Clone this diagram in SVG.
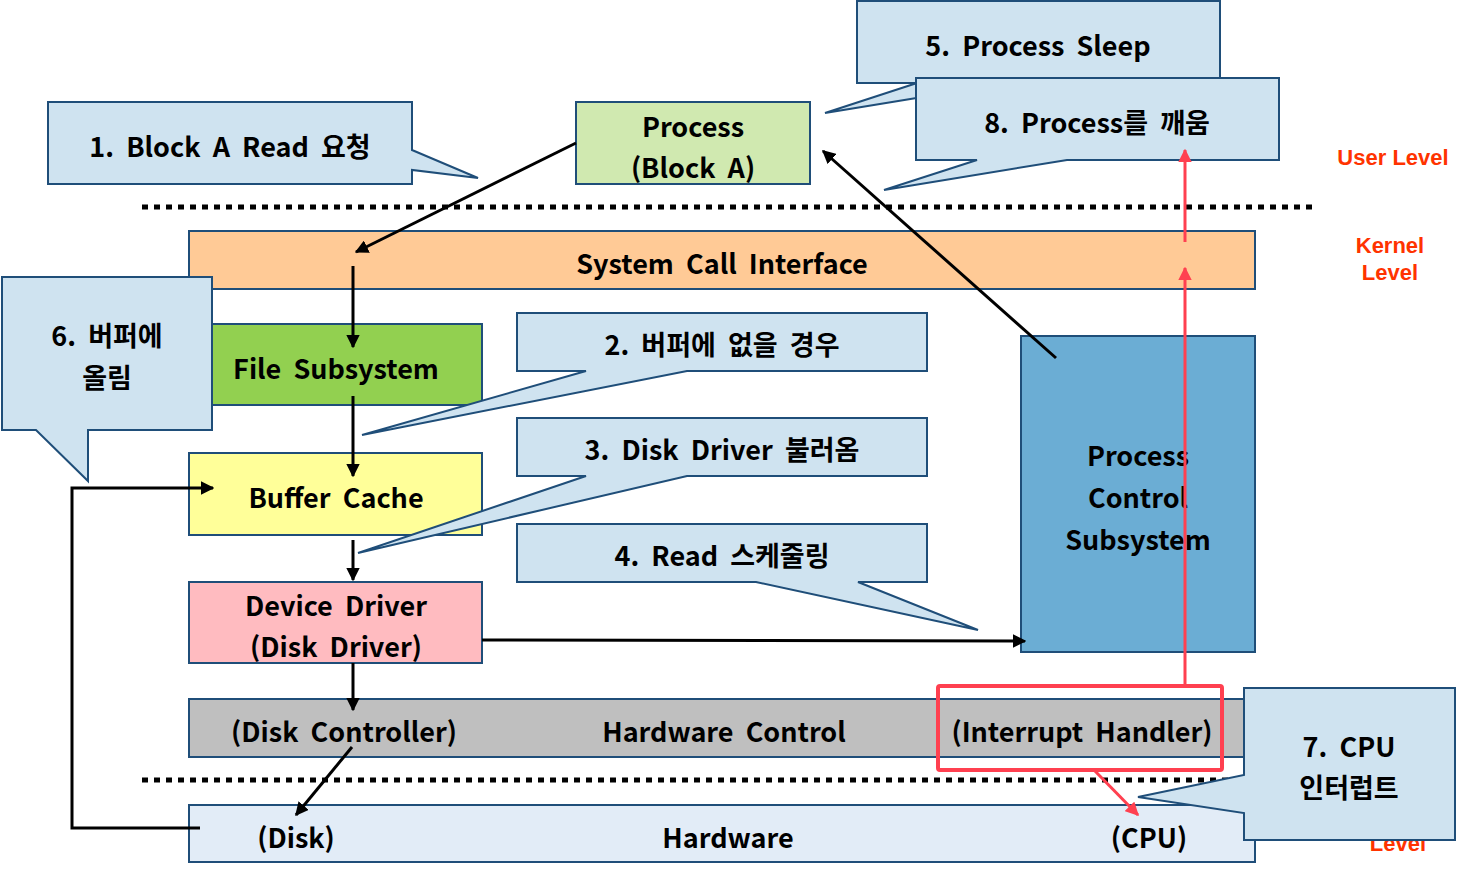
<svg xmlns="http://www.w3.org/2000/svg" width="1466" height="871" viewBox="0 0 1466 871">
<defs>
<style>
.t{font-family:"Noto Sans CJK KR","Liberation Sans",sans-serif;font-weight:bold;font-size:27px;word-spacing:6px;fill:#000;text-anchor:middle;dominant-baseline:central}
.lv{font-family:"Liberation Sans",Arial,sans-serif;font-weight:bold;font-size:22px;fill:#FF3300;text-anchor:middle}
.box{stroke:#1F4E79;stroke-width:2}
.co{fill:#CFE3F0;stroke:#1F4E79;stroke-width:2;stroke-linejoin:miter}
.dot{stroke:#000;stroke-width:5;stroke-dasharray:6 6}
.ln{stroke:#000;stroke-width:3;fill:none}
.rd{stroke:#FF4050;stroke-width:3;fill:none}
</style>
<marker id="ab" viewBox="0 0 10 10" refX="9" refY="5" markerWidth="4.5" markerHeight="4.5" orient="auto" markerUnits="strokeWidth"><path d="M0,0L10,5L0,10z" fill="#000"/></marker>
<marker id="ar" viewBox="0 0 10 10" refX="9" refY="5" markerWidth="4.5" markerHeight="4.5" orient="auto" markerUnits="strokeWidth"><path d="M0,0L10,5L0,10z" fill="#FF4050"/></marker>
</defs>
<rect width="1466" height="871" fill="#fff"/>

<g id="levels">
<text class="lv" x="1393" y="165">User Level</text>
<text class="lv" x="1390" y="253">Kernel</text>
<text class="lv" x="1390" y="280">Level</text>
<text class="lv" x="1398" y="851">Level</text>
</g>

<g id="dividers">
<line class="dot" x1="142" y1="207" x2="1312" y2="207"/>
<line class="dot" x1="142" y1="780" x2="1244" y2="780"/>
</g>

<g id="process">
<rect class="box" x="576" y="102" width="234" height="82" fill="#D0E9B0"/>
<text class="t" x="693" y="125">Process</text>
<text class="t" x="693" y="166">(Block A)</text>
</g>

<g id="syscall">
<rect class="box" x="189" y="231" width="1066" height="58" fill="#FFCA96"/>
<text class="t" x="722" y="262">System Call Interface</text>
</g>

<g id="filesub">
<rect class="box" x="212" y="324" width="270" height="81" fill="#92D050"/>
<text class="t" x="336" y="367">File Subsystem</text>
</g>

<g id="buffer">
<rect class="box" x="189" y="453" width="293" height="82" fill="#FFFF99"/>
<text class="t" x="336" y="496">Buffer Cache</text>
</g>

<g id="devdriver">
<rect class="box" x="189" y="582" width="293" height="81" fill="#FFBBC0"/>
<text class="t" x="336" y="604">Device Driver</text>
<text class="t" x="336" y="645">(Disk Driver)</text>
</g>

<g id="hwcontrol">
<rect class="box" x="189" y="699" width="1066" height="58" fill="#BFBFBF"/>
<text class="t" x="344" y="730">(Disk Controller)</text>
<text class="t" x="724" y="730">Hardware Control</text>
<text class="t" x="1082" y="730">(Interrupt Handler)</text>
</g>

<g id="hardware">
<rect class="box" x="189" y="805" width="1066" height="57" fill="#E2ECF7"/>
<text class="t" x="296" y="836">(Disk)</text>
<text class="t" x="728" y="836">Hardware</text>
<text class="t" x="1149" y="836">(CPU)</text>
</g>

<g id="pcs">
<rect class="box" x="1021" y="336" width="234" height="316" fill="#6BADD4"/>
<text class="t" x="1138" y="454">Process</text>
<text class="t" x="1138" y="496">Control</text>
<text class="t" x="1138" y="538">Subsystem</text>
</g>

<g id="callout1">
<path class="co" d="M48,102H412V150L478,178L412,170V184H48Z"/>
<text class="t" x="230" y="145">1. Block A Read 요청</text>
</g>

<g id="callout6">
<path class="co" d="M2,277H212V430H88V481L36,430H2Z"/>
<text class="t" x="107" y="334">6. 버퍼에</text>
<text class="t" x="107" y="376">올림</text>
</g>

<g id="callout2">
<path class="co" d="M517,313H927V371H687L362,435L586,371H517Z"/>
<text class="t" x="722" y="343">2. 버퍼에 없을 경우</text>
</g>

<g id="callout3">
<path class="co" d="M517,418H927V476H687L358,553L586,476H517Z"/>
<text class="t" x="722" y="448">3. Disk Driver 불러옴</text>
</g>

<g id="callout4">
<path class="co" d="M517,524H927V582H858L978,630L756,582H517Z"/>
<text class="t" x="722" y="554">4. Read 스케줄링</text>
</g>

<g id="callout5">
<path class="co" d="M857,1H1220V83H1008L825,113L917,83H857Z"/>
<text class="t" x="1038" y="44">5. Process Sleep</text>
</g>

<g id="callout8">
<path class="co" d="M916,78H1279V160H1067L884,190L977,160H916Z"/>
<text class="t" x="1097" y="121">8. Process를 깨움</text>
</g>

<g id="connectors">
<line class="ln" x1="576" y1="143" x2="356" y2="252" marker-end="url(#ab)"/>
<line class="ln" x1="353" y1="266" x2="353" y2="347" marker-end="url(#ab)"/>
<line class="ln" x1="353" y1="396" x2="353" y2="476" marker-end="url(#ab)"/>
<line class="ln" x1="353" y1="540" x2="353" y2="580" marker-end="url(#ab)"/>
<line class="ln" x1="353" y1="663" x2="353" y2="710" marker-end="url(#ab)"/>
<line class="ln" x1="352" y1="747" x2="296" y2="815" marker-end="url(#ab)"/>
<polyline class="ln" points="200,828 72,828 72,488 213,488" marker-end="url(#ab)"/>
<line class="ln" x1="482" y1="640" x2="1025" y2="641" marker-end="url(#ab)"/>
<line class="ln" x1="1056" y1="358" x2="823" y2="151" marker-end="url(#ab)"/>
<line class="rd" x1="1185" y1="686" x2="1185" y2="268" marker-end="url(#ar)"/>
<line class="rd" x1="1185" y1="242" x2="1185" y2="150" marker-end="url(#ar)"/>
<line class="rd" x1="1094" y1="770" x2="1138" y2="815" marker-end="url(#ar)"/>
</g>

<g id="interrupt-highlight">
<rect x="938" y="686" width="284" height="84" rx="2" fill="none" stroke="#FF4050" stroke-width="4"/>
</g>

<g id="callout7">
<path class="co" d="M1244,688H1455V840H1244V813L1138,797L1244,775Z"/>
<text class="t" x="1349" y="745">7. CPU</text>
<text class="t" x="1349" y="786">인터럽트</text>
</g>
</svg>
